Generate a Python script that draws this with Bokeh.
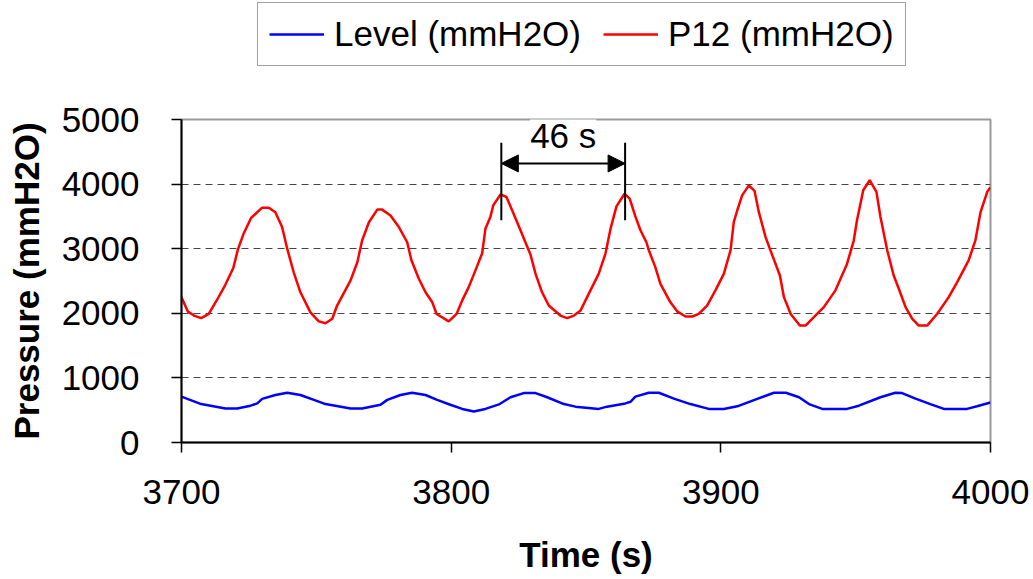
from bokeh.plotting import figure
from bokeh.layouts import column
from bokeh.models import (Range1d, FixedTicker, Legend, LegendItem, Label, Arrow,
                          NormalHead, ColumnDataSource)
from bokeh.embed import file_html
from bokeh.resources import INLINE

# ---- data ----
p12_t = [3700.0, 3702.3, 3704.6, 3707.3, 3710.1, 3713.2, 3716.3, 3719.2, 3720.9, 3723.1,
         3725.8, 3729.9, 3732.4, 3734.8, 3737.3, 3739.2, 3741.6, 3744.1, 3747.8, 3750.9,
         3753.4, 3755.9, 3757.7, 3762.7, 3765.2, 3767.0, 3769.5, 3772.6, 3774.4, 3777.5,
         3780.6, 3783.7, 3785.2, 3788.0, 3790.5, 3793.0, 3794.6, 3799.1, 3802.0, 3804.1,
         3806.5, 3809.0, 3811.5, 3812.7, 3814.6, 3815.6, 3818.3, 3820.5, 3822.6, 3825.7,
         3829.4, 3831.3, 3833.7, 3836.2, 3840.5, 3843.0, 3845.5, 3848.0, 3851.0, 3854.7,
         3857.2, 3859.1, 3861.3, 3864.3, 3866.2, 3868.3, 3870.2, 3872.4, 3873.3, 3875.7,
         3877.6, 3881.3, 3883.8, 3886.9, 3889.4, 3891.8, 3894.9, 3898.0, 3901.1, 3903.6,
         3904.8, 3906.1, 3907.9, 3910.4, 3912.5, 3914.1, 3916.6, 3918.4, 3921.9, 3923.4,
         3925.9, 3929.3, 3931.4, 3934.5, 3938.2, 3942.5, 3946.8, 3949.3, 3950.5, 3952.8,
         3955.2, 3957.7, 3959.2, 3961.7, 3964.1, 3966.0, 3968.5, 3971.0, 3973.4, 3976.5,
         3980.2, 3984.5, 3987.6, 3991.9, 3994.4, 3996.3, 3998.8, 4000.0]
p12_v = [2250, 2030, 1965, 1925, 1990, 2210, 2445, 2700, 2985, 3240,
         3475, 3635, 3635, 3565, 3335, 3000, 2635, 2325, 2015, 1875,
         1845, 1915, 2120, 2510, 2790, 3130, 3410, 3605, 3605, 3515,
         3335, 3100, 2830, 2535, 2325, 2170, 1990, 1875, 1990, 2200,
         2405, 2665, 2930, 3310, 3500, 3670, 3840, 3800, 3595, 3285,
         2910, 2610, 2325, 2120, 1965, 1925, 1965, 2045, 2300, 2610,
         2920, 3310, 3655, 3850, 3775, 3500, 3285, 3100, 2975, 2715,
         2455, 2170, 2030, 1950, 1950, 1990, 2120, 2355, 2610, 2975,
         3410, 3595, 3825, 3980, 3895, 3565, 3180, 2975, 2585, 2250,
         1990, 1810, 1810, 1940, 2095, 2355, 2765, 3130, 3440, 3905,
         4060, 3880, 3490, 2975, 2585, 2380, 2095, 1915, 1810, 1810,
         1990, 2250, 2480, 2820, 3130, 3565, 3880, 3950]

level_t = [3700.0, 3707.3, 3716.3, 3720.6, 3725.6, 3728.1, 3729.9, 3734.8, 3739.2, 3744.1,
           3749.1, 3753.4, 3762.7, 3767.0, 3773.8, 3776.3, 3781.2, 3785.5, 3790.5, 3794.8,
           3799.7, 3804.1, 3808.4, 3812.7, 3818.0, 3822.0, 3826.9, 3831.3, 3835.6, 3841.8,
           3846.1, 3854.7, 3857.8, 3864.6, 3866.5, 3868.3, 3873.3, 3877.0, 3882.6, 3888.7,
           3895.5, 3901.1, 3906.1, 3913.5, 3919.7, 3924.1, 3929.0, 3932.7, 3937.6, 3946.8,
           3951.2, 3959.2, 3964.7, 3967.2, 3972.2, 3977.7, 3982.7, 3991.3, 3995.0, 4000.0]
level_v = [710, 595, 525, 525, 570, 605, 675, 735, 770, 735,
           660, 595, 525, 525, 585, 660, 735, 770, 735, 660,
           585, 520, 480, 520, 595, 700, 765, 765, 700, 595,
           555, 520, 555, 605, 630, 710, 770, 770, 680, 595,
           520, 520, 560, 675, 770, 770, 700, 595, 520, 520,
           570, 700, 770, 765, 680, 595, 520, 520, 560, 620]

x_ticks = [3700, 3800, 3900, 4000]
y_ticks = [0, 1000, 2000, 3000, 4000, 5000]
series_names = ["Level (mmH2O)", "P12 (mmH2O)"]
series_colors = ["#0000FF", "#FF0000"]

# period annotation
period_t = [3818.6, 3864.5]
period_y = [3440, 4640]
period_arrow_y = 4320
period_text = "46 s"
period_text_y = 4760

FONT = "Liberation Sans"
LEG_H = 70

# ---------------- main chart ----------------
p = figure(width=1033, height=579 - LEG_H, output_backend="svg", toolbar_location=None,
           x_range=Range1d(3700, 4000), y_range=Range1d(0, 5000),
           min_border_left=181, min_border_right=43, min_border_top=119 - LEG_H,
           min_border_bottom=137)

p.background_fill_color = "white"
p.border_fill_color = "white"
p.outline_line_color = "#999999"
p.outline_line_width = 2

p.xgrid.visible = False
p.ygrid.ticker = FixedTicker(ticks=[1000, 2000, 3000, 4000])
p.ygrid.grid_line_color = "#444444"
p.ygrid.grid_line_dash = "7 5"
p.ygrid.grid_line_width = 1

for ax in (p.xaxis[0], p.yaxis[0]):
    ax.axis_line_color = "black"
    ax.axis_line_width = 2
    ax.major_tick_line_color = "black"
    ax.major_tick_line_width = 1.5
    ax.major_tick_in = 0
    ax.major_tick_out = 10
    ax.minor_tick_line_color = None
    ax.major_label_text_font = FONT
    ax.major_label_text_font_size = "35px"
    ax.major_label_text_color = "black"
    ax.axis_label_text_font = FONT
    ax.axis_label_text_font_size = "35px"
    ax.axis_label_text_font_style = "bold"
    ax.axis_label_text_color = "black"

p.xaxis.ticker = FixedTicker(ticks=x_ticks)
p.yaxis.ticker = FixedTicker(ticks=y_ticks)
p.xaxis.axis_label = "Time (s)"
p.yaxis.axis_label = "Pressure (mmH2O)"
p.xaxis.major_label_standoff = 27
p.xaxis.axis_label_standoff = 28
p.yaxis.major_label_standoff = 32
p.yaxis.axis_label_standoff = 13

p.line(level_t, level_v, line_color=series_colors[0], line_width=2.5)
p.line(p12_t, p12_v, line_color=series_colors[1], line_width=2.5)

seg_src = ColumnDataSource(dict(x=period_t, y0=[period_y[0]] * 2, y1=[period_y[1]] * 2))
p.segment(x0="x", y0="y0", x1="x", y1="y1", source=seg_src, line_color="black", line_width=2)
p.add_layout(Label(x=(period_t[0] + period_t[1]) / 2, y=period_text_y, text=period_text,
                   text_align="center", text_baseline="middle",
                   text_font=FONT, text_font_size="35px", text_color="black",
                   background_fill_color="white", padding=(0, 13)))
p.add_layout(Arrow(x_start=period_t[0], y_start=period_arrow_y,
                   x_end=period_t[1], y_end=period_arrow_y,
                   line_color="black", line_width=2,
                   start=NormalHead(size=17, fill_color="black", line_color="black"),
                   end=NormalHead(size=17, fill_color="black", line_color="black")))

# ---------------- legend strip ----------------
lg = figure(width=1033, height=LEG_H, output_backend="svg", toolbar_location=None,
            x_range=Range1d(0, 1), y_range=Range1d(0, 1),
            min_border_left=0, min_border_right=0, min_border_top=0, min_border_bottom=0)
lg.axis.visible = False
lg.grid.visible = False
lg.outline_line_color = None
# same series, outside this strip's view: only their legend entries show
lg_r = [lg.line(level_t, level_v, line_color=series_colors[0], line_width=2.5),
        lg.line(p12_t, p12_v, line_color=series_colors[1], line_width=2.5)]
legend = Legend(items=[LegendItem(label=n, renderers=[r]) for n, r in zip(series_names, lg_r)],
                orientation="horizontal", location=(76, 4),
                label_text_font=FONT, label_text_font_size="35px", label_text_color="black",
                glyph_width=55, glyph_height=30, label_standoff=10, spacing=22,
                padding=11, margin=0,
                border_line_color="#444444", border_line_width=1.5,
                background_fill_color="white", background_fill_alpha=1)
lg.add_layout(legend)

layout = column(lg, p, spacing=0)
open("out.html", "w").write(file_html(layout, INLINE))
